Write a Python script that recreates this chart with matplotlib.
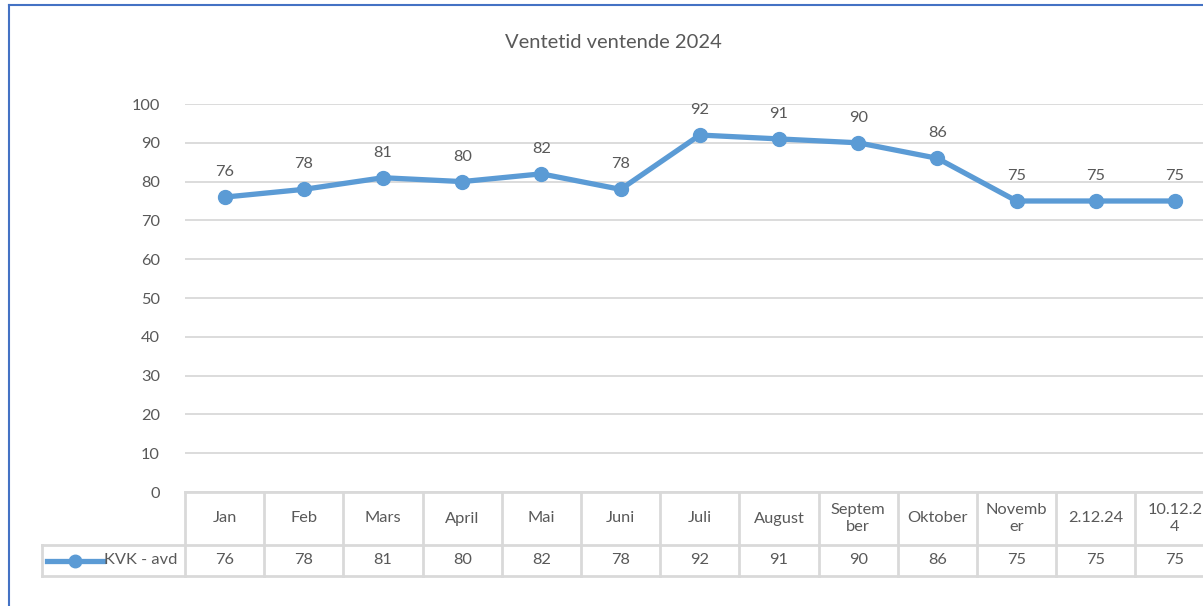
import matplotlib.pyplot as plt
from matplotlib.lines import Line2D

months = ['Jan', 'Feb', 'Mars', 'April', 'Mai', 'Juni', 'Juli', 'August',
          'Septem\nber', 'Oktober', 'Novemb\ner', '2.12.24', '10.12.2\n4']
values = [76, 78, 81, 80, 82, 78, 92, 91, 90, 86, 75, 75, 75]
series_name = 'KVK - avd'

blue = '#5B9BD5'
grid = '#D9D9D9'
txt = '#595959'
fs = 11.8
plt.rcParams['font.family'] = ['Lato', 'DejaVu Sans']

W, H = 1203, 606
fig = plt.figure(figsize=(W / 100, H / 100), dpi=100)

# plot area in pixels
x0, y_top, y_bot, cw = 185, 104, 492, 79.2
n = len(months)
ax = fig.add_axes([x0 / W, (H - y_bot) / H, n * cw / W, (y_bot - y_top) / H])
ax.set_xlim(-0.5, n - 0.5)
ax.set_ylim(0, 100)
ax.set_yticks(range(0, 101, 10))
ax.yaxis.grid(True, color=grid, lw=1.3)
ax.set_axisbelow(True)
for s in ax.spines.values():
    s.set_visible(False)
ax.tick_params(axis='y', length=0, pad=18, labelsize=fs, labelcolor=txt)
ax.set_xticks([])

x = list(range(n))
ax.plot(x, values, color=blue, lw=3.8, marker='o', ms=10, clip_on=False, zorder=3)
for xi, v in zip(x, values):
    ax.annotate(str(v), (xi, v), xytext=(0, 13), textcoords='offset points',
                ha='center', va='bottom', fontsize=fs, color=txt)

# data table below the axis
px = 1 / (y_bot - y_top)
r1 = -53 * px
r2 = r1 - 31 * px
lkw = dict(color=grid, lw=2, clip_on=False, transform=ax.transAxes)
ax.add_line(Line2D([0, 1], [0, 0], **lkw))
ax.add_line(Line2D([(42 - x0) / (n * cw), 1], [r1, r1], **lkw))
ax.add_line(Line2D([(42 - x0) / (n * cw), 1], [r2, r2], **lkw))
ax.add_line(Line2D([(42 - x0) / (n * cw)] * 2, [r1, r2], **lkw))
for i in range(n + 1):
    xf = i / n
    ax.add_line(Line2D([xf, xf], [0, r2], **lkw))
for i, (m, v) in enumerate(zip(months, values)):
    xf = (i + 0.5) / n
    ax.text(xf, r1 / 2, m, transform=ax.transAxes, ha='center', va='center',
            fontsize=fs, color=txt, linespacing=1.25)
    ax.text(xf, (r1 + r2) / 2, str(v), transform=ax.transAxes, ha='center',
            va='center', fontsize=fs, color=txt)

# legend key in table
ym = (r1 + r2) / 2
ax.add_line(Line2D([(47 - x0) / (n * cw), (103 - x0) / (n * cw)], [ym, ym],
                   color=blue, lw=3.8, clip_on=False, transform=ax.transAxes))
ax.add_line(Line2D([(75 - x0) / (n * cw)], [ym], color=blue, marker='o', ms=9,
                   clip_on=False, transform=ax.transAxes))
ax.text((104 - x0) / (n * cw), ym, series_name, transform=ax.transAxes,
        ha='left', va='center', fontsize=fs, color=txt)

fig.text(613 / W, 1 - 42 / H, 'Ventetid ventende 2024', ha='center',
         va='center', fontsize=14.5, color=txt)

# chart border (left and top visible)
fig.add_artist(Line2D([9 / W, 9 / W], [0, 1 - 5 / H], color='#4472C4', lw=1.5,
                      transform=fig.transFigure))
fig.add_artist(Line2D([9 / W, 1], [1 - 5 / H, 1 - 5 / H], color='#4472C4',
                      lw=1.5, transform=fig.transFigure))

fig.savefig('out.png', dpi=100)
